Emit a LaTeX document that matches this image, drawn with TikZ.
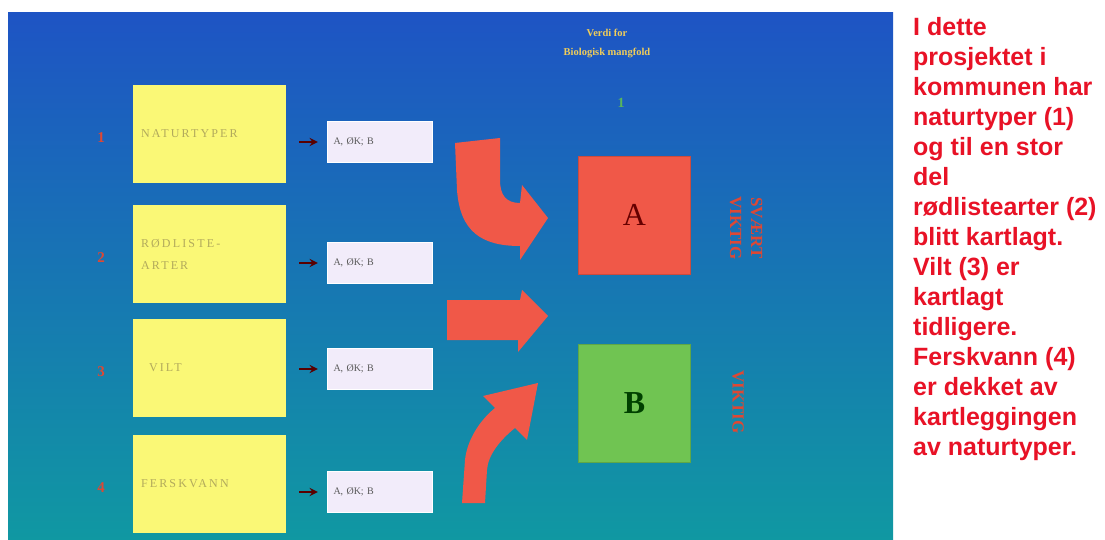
\documentclass[tikz,border=0pt]{standalone}
\usepackage{fontspec}
\setmainfont{Liberation Serif}
\newfontfamily\notefont{Liberation Sans}
\newfontfamily\boxfont[LetterSpace=18]{Liberation Serif}
\usepackage{xcolor}
\definecolor{slidetop}{RGB}{30,84,196}
\definecolor{slidemid}{RGB}{10,128,208}
\definecolor{slidebot}{RGB}{16,152,162}
\definecolor{boxyellow}{RGB}{250,248,118}
\definecolor{boxtext}{RGB}{178,170,92}
\definecolor{valwhite}{RGB}{242,236,250}
\definecolor{arrowred}{RGB}{240,88,72}
\definecolor{boxgreen}{RGB}{112,196,82}
\definecolor{titlegold}{RGB}{240,205,90}
\definecolor{labelred}{RGB}{222,72,52}
\definecolor{notered}{RGB}{232,18,38}
\tikzset{every node/.append style={font=\footnotesize}}

\begin{document}
\begin{tikzpicture}[x=1pt, y=-1pt, >=stealth,
    typbox/.style={fill=boxyellow, minimum width=153pt, minimum height=98pt,
        text width=137pt, inner sep=8pt, align=left, text=boxtext,
        font=\boxfont\fontsize{12}{22}\selectfont},
    valbox/.style={fill=valwhite, draw=white, minimum width=105pt, minimum height=41pt,
        text width=92pt, inner sep=6pt, align=left, text=gray!70!black,
        font=\fontsize{10}{12}\selectfont},
    numlabel/.style={text=labelred, font=\bfseries\fontsize{15}{15}\selectfont},
    bigbox/.style={minimum width=112pt, minimum height=118pt, inner sep=0pt,
        font=\fontsize{32}{32}\selectfont},
    sidelabel/.style={rotate=-90, align=center, text=labelred,
        font=\bfseries\fontsize{17}{21}\selectfont}]
    \useasboundingbox (0,0) rectangle (1105,540);
    % slide
    \shade[top color=slidetop, middle color=slidemid, bottom color=slidebot]
        (8,13) rectangle (893,540);
    \node[text=titlegold, align=center, font=\bfseries\fontsize{10.5}{19}\selectfont]
        (title) at (607,43) {Verdi for\\Biologisk mangfold};
    \node[text=boxgreen!80!teal, font=\bfseries\fontsize{14}{14}\selectfont]
        (mark) at (621,103) {1};
    % the four data sets
    \foreach \i/\yt/\yv/\txt in {1/134/142/NATURTYPER, 2/254/263/{RØDLISTE-\\ARTER},
                                 3/368/369/{\ \ VILT}, 4/484/492/FERSKVANN} {
        \node[numlabel] (num\i) at (101,\yt+4) {\i};
        \node[typbox] (typ\i) at (209.5,\yt) {\txt};
        \node[valbox] (val\i) at (379.5,\yv) {A, ØK; B};
        \draw[->, line width=2.6pt, red!35!black, shorten <=13pt, shorten >=9pt]
            (typ\i.east |- val\i) -- (val\i.west);
    }
    % red arrows
    \fill[arrowred] (455,143) -- (457,190) .. controls (460,232) and (482,246) .. (520,246)
        -- (520,260) -- (548,218) -- (522,185) -- (520,203)
        .. controls (506,203) and (500,195) .. (500,180) -- (500,138) -- cycle;
    \fill[arrowred] (447,300) -- (520,300) -- (522,290) -- (548,316) -- (518,352)
        -- (518,340) -- (447,340) -- cycle;
    \fill[arrowred] (462,503) -- (465,460) .. controls (467,440) and (480,420) .. (495,408)
        -- (483,396) -- (538,383) -- (527,440) -- (515,428)
        .. controls (500,440) and (488,455) .. (487,470) -- (485,503) -- cycle;
    % value classes
    \node[bigbox, fill=arrowred, draw=arrowred!85!black, text=red!40!black]
        (clsA) at (634.5,215) {A};
    \node[bigbox, fill=boxgreen, draw=boxgreen!85!black, text=green!25!black,
        font=\bfseries\fontsize{32}{32}\selectfont] (clsB) at (634.5,403.5) {B};
    \node[sidelabel] (labA) at (746,228) {SVÆRT\\VIKTIG};
    \node[sidelabel] (labB) at (738,402) {VIKTIG};
    % note
    \node[anchor=north west, inner sep=0pt, align=left, text=notered,
        font=\notefont\bfseries\fontsize{25}{30}\selectfont] (note) at (913,17)
        {I dette\\prosjektet i\\kommunen har\\naturtyper (1)\\og til en stor\\del\\
         rødlistearter (2)\\blitt kartlagt.\\Vilt (3) er\\kartlagt\\tidligere.\\
         Ferskvann (4)\\er dekket av\\kartleggingen\\av naturtyper.};
\end{tikzpicture}
\end{document}
